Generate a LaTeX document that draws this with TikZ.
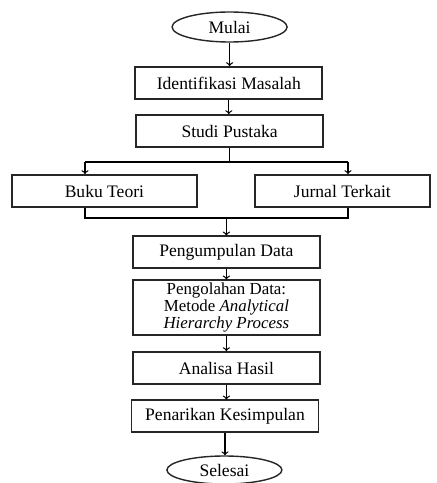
\documentclass[tikz,border=0pt]{standalone}
\usepackage{fontspec}
\setmainfont{Liberation Serif}
\usetikzlibrary{shapes.geometric}
\begin{document}
\begin{tikzpicture}[
    box/.style={rectangle, draw=black!85, line width=1.3pt, minimum width=4.675cm, minimum height=0.8cm, align=center, font=\fontsize{12.5}{16}\selectfont},
    term/.style={ellipse, draw=black!85, line width=1pt, minimum width=2.875cm, minimum height=0.75cm, inner sep=0pt, font=\fontsize{12.5}{16}\selectfont},
    arrow/.style={->, >=to, line width=0.9pt},
    line/.style={line width=0.9pt}
]
    \useasboundingbox (0,0) rectangle (10.9,-12.075);

    \node[term] (mulai) at (5.74,-0.675) {Mulai};
    \node[box] (identifikasi) at (5.72,-2.075) {Identifikasi Masalah};
    \node[box] (studi) at (5.74,-3.275) {Studi Pustaka};
    \node[box, minimum width=4.625cm] (buku) at (2.61,-4.775) {Buku Teori};
    \node[box, minimum width=4.375cm] (jurnal) at (8.56,-4.775) {Jurnal Terkait};
    \node[box] (pengumpulan) at (5.66,-6.31) {Pengumpulan Data};
    \node[box, minimum height=1.2cm, inner sep=2pt, font=\fontsize{12}{10.5}\selectfont] (pengolahan) at (5.66,-7.69) {Pengolahan Data:\\Metode \textit{Analytical}\\\textit{Hierarchy Process}};
    \node[box] (analisa) at (5.66,-9.2) {Analisa Hasil};
    \node[box] (penarikan) at (5.625,-10.41) {Penarikan Kesimpulan};
    \node[term, minimum height=0.7cm] (selesai) at (5.61,-11.75) {Selesai};

    \coordinate (splitL) at (2.125,-4.05);
    \coordinate (splitR) at (8.7,-4.05);
    \coordinate (joinL) at (2.125,-5.45);
    \coordinate (joinR) at (8.7,-5.45);

    \draw[arrow] (mulai) -- (mulai |- identifikasi.north);
    \draw[arrow] (identifikasi) -- (identifikasi |- studi.north);
    \draw[line] (studi.south) -- (studi.south |- splitL);
    \draw[line] (splitL) -- (splitR);
    \draw[arrow] (splitL) -- (splitL |- buku.north);
    \draw[arrow] (splitR) -- (splitR |- jurnal.north);
    \draw[line] (joinL |- buku.south) -- (joinL) -- (joinR) -- (joinR |- jurnal.south);
    \draw[arrow] (joinL -| pengumpulan) -- (pengumpulan);
    \draw[arrow] (pengumpulan) -- (pengumpulan |- pengolahan.north);
    \draw[arrow] (pengolahan) -- (pengolahan |- analisa.north);
    \draw[arrow] (analisa) -- (analisa |- penarikan.north);
    \draw[arrow] (penarikan) -- (penarikan |- selesai.north);
\end{tikzpicture}
\end{document}
